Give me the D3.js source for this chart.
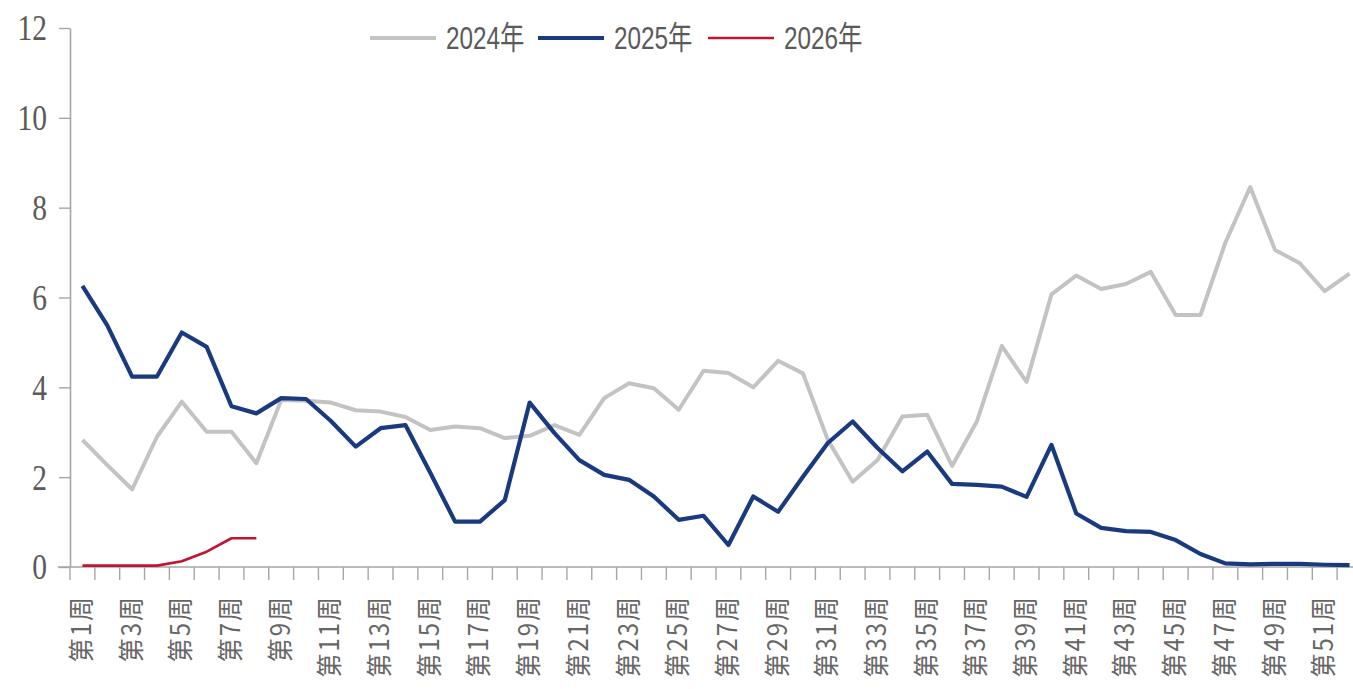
<!DOCTYPE html>
<html>
<head>
<meta charset="utf-8">
<script src="https://cdn.jsdelivr.net/npm/d3@7"></script>
<style>
  html, body { margin: 0; padding: 0; background: #ffffff; overflow: hidden; }
  svg { display: block; }
</style>
</head>
<body>
<svg id="chart" width="1353" height="689"></svg>
<script>
// ---- data ----
const weeks = d3.range(1, 53).map(i => "第" + i + "周");
const seriesNames = ["2024年", "2025年", "2026年"];
const yTicks = [0, 2, 4, 6, 8, 10, 12];

const values2024 = [2.83, 2.27, 1.73, 2.90, 3.68, 3.01, 3.01, 2.31, 3.72, 3.70,
  3.66, 3.49, 3.46, 3.34, 3.05, 3.13, 3.09, 2.87, 2.92, 3.16,
  2.94, 3.76, 4.09, 3.98, 3.50, 4.37, 4.32, 4.00, 4.59, 4.31,
  2.83, 1.90, 2.38, 3.35, 3.39, 2.25, 3.24, 4.92, 4.12, 6.07,
  6.49, 6.19, 6.30, 6.57, 5.61, 5.61, 7.22, 8.46, 7.06, 6.76,
  6.14, 6.53];
const values2025 = [6.26, 5.38, 4.24, 4.24, 5.22, 4.90, 3.58, 3.42, 3.76, 3.74,
  3.25, 2.68, 3.09, 3.16, 2.10, 1.01, 1.01, 1.49, 3.66, 2.98,
  2.38, 2.05, 1.94, 1.57, 1.05, 1.14, 0.49, 1.57, 1.23, 2.01,
  2.76, 3.24, 2.65, 2.13, 2.57, 1.85, 1.83, 1.79, 1.56, 2.72,
  1.19, 0.87, 0.80, 0.78, 0.60, 0.29, 0.08, 0.06, 0.07, 0.07,
  0.05, 0.04];
const values2026 = [0.03, 0.03, 0.03, 0.03, 0.13, 0.34, 0.64, 0.64];

const seriesValues = [values2024, values2025, values2026];
const seriesColors = ["#c3c3c3", "#1a3a80", "#c01530"];
const seriesWidths = [4, 4.2, 2.6];

// ---- layout ----
const svg = d3.select("#chart");
const x = d3.scaleBand().domain(weeks).range([70, 1362]).paddingInner(0).paddingOuter(0);
const y = d3.scaleLinear().domain([0, 12]).range([567, 28]);

const axisColor = "#a6a6a6";
const textColor = "#5a5a5a";

// y axis
const yAxisG = svg.append("g").attr("transform", "translate(70,0)")
  .call(d3.axisLeft(y).tickValues(yTicks).tickSize(11).tickSizeOuter(0).tickFormat(d => d));
yAxisG.select(".domain").attr("stroke", axisColor).attr("stroke-width", 1.6);
yAxisG.selectAll(".tick line").attr("stroke", axisColor).attr("stroke-width", 1.4);
yAxisG.selectAll(".tick text").remove();
yAxisG.selectAll(".tick").append("text")
  .attr("fill", textColor)
  .attr("font-family", "'Liberation Serif', 'DejaVu Serif', serif")
  .attr("font-size", 36)
  .attr("text-anchor", "end")
  .attr("dy", "0.33em")
  .attr("transform", "translate(-23,0) scale(0.82,1)")
  .text(d => d);

// x axis
const xAxisG = svg.append("g").attr("transform", "translate(0,567)")
  .call(d3.axisBottom(x).tickSize(0).tickFormat(""));
xAxisG.select(".domain").remove();
xAxisG.append("line").attr("x1", 58).attr("x2", 1362).attr("y1", 0).attr("y2", 0)
  .attr("stroke", axisColor).attr("stroke-width", 1.6);
// tick marks at band boundaries
const boundaries = weeks.map(w => x(w));
xAxisG.selectAll(".bound").data(boundaries).enter().append("line")
  .attr("class", "bound")
  .attr("x1", d => d).attr("x2", d => d)
  .attr("y1", 0).attr("y2", 13)
  .attr("stroke", axisColor).attr("stroke-width", 1.4);

// x labels (every other week)
svg.append("g").selectAll("text")
  .data(weeks.filter((w, i) => i % 2 === 0))
  .enter().append("text")
  .attr("transform", d => `translate(${x(d) + x.bandwidth() / 2 - 1},595) rotate(-90) scale(1,1.1)`)
  .attr("text-anchor", "end")
  .attr("dy", "0.36em")
  .attr("fill", "#666666")
  .attr("font-family", "'Noto Sans CJK SC', 'Noto Sans', sans-serif")
  .attr("font-size", 24)
  .attr("letter-spacing", 2)
  .text(d => d);

// lines
const line = d3.line()
  .x((d, i) => x(weeks[i]) + x.bandwidth() / 2)
  .y(d => y(d))
  .curve(d3.curveLinear);

seriesValues.forEach((vals, k) => {
  svg.append("path")
    .datum(vals)
    .attr("fill", "none")
    .attr("stroke", seriesColors[k])
    .attr("stroke-width", seriesWidths[k])
    .attr("stroke-linejoin", "round")
    .attr("stroke-linecap", "butt")
    .attr("d", line);
});

// legend
const legendX = [370, 538, 708];
const legend = svg.append("g");
seriesNames.forEach((name, k) => {
  legend.append("line")
    .attr("x1", legendX[k]).attr("x2", legendX[k] + 66)
    .attr("y1", 38).attr("y2", 38)
    .attr("stroke", seriesColors[k])
    .attr("stroke-width", seriesWidths[k]);
  legend.append("text")
    .attr("transform", `translate(${legendX[k] + 76},49) scale(0.76,1)`)
    .attr("fill", textColor)
    .attr("font-family", "'Liberation Sans', Arial, 'Noto Sans CJK SC', sans-serif")
    .attr("font-size", 32)
    .text(name);
});
</script>
</body>
</html>
